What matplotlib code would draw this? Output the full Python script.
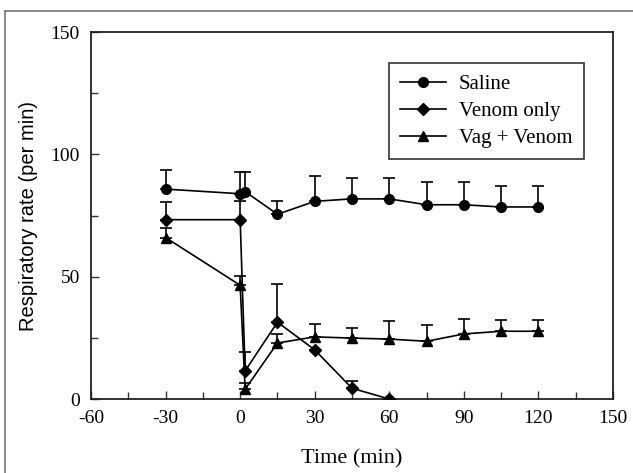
import matplotlib
matplotlib.use("Agg")
import matplotlib.pyplot as plt
from matplotlib.lines import Line2D
import numpy as np

plt.rcParams["axes.unicode_minus"] = False

# time points (min)
t_saline = [-30, 0, 2, 15, 30, 45, 60, 75, 90, 105, 120]
saline = [85.8, 83.9, 84.8, 75.5, 80.8, 81.8, 81.8, 79.4, 79.4, 78.5, 78.5]
saline_err = [7.8, 8.7, 7.8, 5.5, 10.2, 8.5, 8.5, 9.3, 9.3, 8.4, 8.6]

t_venom = [-30, 0, 2, 15, 30, 45, 60]
venom = [73.3, 73.3, 11.5, 31.4, 20.1, 4.4, 0.0]
venom_err = [7.4, 7.8, 7.7, 15.6, 0.0, 3.1, 0.0]

t_vag = [-30, 0, 2, 15, 30, 45, 60, 75, 90, 105, 120]
vag = [66.0, 46.5, 4.0, 22.9, 25.4, 24.9, 24.5, 23.6, 26.6, 27.7, 27.7]
vag_err = [4.0, 3.8, 2.7, 3.5, 5.2, 4.0, 7.3, 6.6, 6.3, 4.4, 4.8]

serif = "Liberation Serif"
sans = "Liberation Sans"

fig = plt.figure(figsize=(6.33, 4.73), dpi=100)
ax = fig.add_axes([0.1438, 0.1564, 0.8246, 0.7759])

# outer frame (top and left edges visible)
fig.add_artist(Line2D([5/633, 5/633], [0, 1 - 11/473], transform=fig.transFigure,
                      color="#777777", lw=1.2))
fig.add_artist(Line2D([5/633, 1], [1 - 11/473, 1 - 11/473], transform=fig.transFigure,
                      color="#777777", lw=1.2))

def upper_err(t, y, e, marker, ms, label):
    e = np.array(e)
    ax.errorbar(t, y, yerr=[np.zeros_like(e), e], fmt="-", marker=marker,
                color="black", lw=1.2, capsize=4.5, elinewidth=1.2, capthick=1.2,
                ms=ms, label=label, zorder=3)

upper_err(t_saline, saline, saline_err, "o", 7, "Saline")
upper_err(t_venom, venom, venom_err, "D", 6, "Venom only")
upper_err(t_vag, vag, vag_err, "^", 7, "Vag + Venom")

ax.set_xlim(-60, 150)
ax.set_ylim(0, 150)
ax.set_xticks(np.arange(-60, 151, 30))
ax.set_xticks(np.arange(-45, 150, 30), minor=True)
ax.set_yticks(np.arange(0, 151, 50))
ax.set_yticks([25, 75, 125], minor=True)
ax.tick_params(which="both", direction="in", width=1.0, color="#333333")
ax.tick_params(which="major", length=6, labelsize=14, pad=8)
ax.tick_params(which="minor", length=5)
for lab in ax.get_xticklabels() + ax.get_yticklabels():
    lab.set_fontfamily(serif)
for s in ax.spines.values():
    s.set_linewidth(1.3)
    s.set_color("#222222")

ax.set_xlabel("Time (min)", fontfamily=serif, fontsize=16, labelpad=16)
ax.set_ylabel("Respiratory rate (per min)", fontfamily=sans, fontsize=14.5, labelpad=9)

h, l = ax.get_legend_handles_labels()
handles = [Line2D([0], [0], color="black", lw=1.2, marker=m, ms=ms)
           for m, ms in [("o", 7), ("D", 6), ("^", 7)]]
leg = ax.legend(handles, l, loc="upper right", bbox_to_anchor=(0.944, 0.9155),
                prop={"family": serif, "size": 15}, frameon=True, fancybox=False,
                edgecolor="black", handlelength=2.2, handletextpad=0.6,
                borderpad=0.55, labelspacing=0.35, borderaxespad=0)
leg.get_frame().set_linewidth(1.2)

fig.savefig("out.png", dpi=100)
